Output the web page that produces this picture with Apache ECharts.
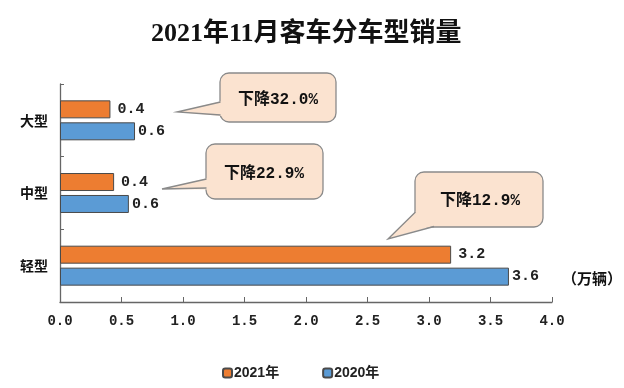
<!DOCTYPE html>
<html><head><meta charset="utf-8">
<script src="https://cdn.jsdelivr.net/npm/echarts@6/dist/echarts.min.js"></script>
<style>html,body{margin:0;padding:0;background:#fff}#c{width:624px;height:388px}</style>
</head><body><div id="c"></div>
<script>
var categories = ['轻型', '中型', '大型'];
var seriesNames = ['2021年', '2020年'];
var values2021 = [3.18, 0.44, 0.41];
var values2020 = [3.65, 0.56, 0.61];
var xTicks = [0, 0.5, 1, 1.5, 2, 2.5, 3, 3.5, 4];
var changeTexts = ['下降12.9%', '下降22.9%', '下降32.0%'];

var chart = echarts.init(document.getElementById('c'));
var mono = 'Liberation Mono, Noto Sans CJK SC, monospace';
var labelCfg = {
  show: true, position: 'right', distance: 7,
  fontFamily: mono, fontWeight: 'bold', fontSize: 15, color: '#222',
  formatter: function (p) { return p.value.toFixed(1); }
};
var fill = '#FBE3D0', stroke = '#8a8a8a';

function callout(rect, base1, tip, base2, coverPts, text, tx, ty) {
  return [
    { type: 'rect', shape: { x: rect[0], y: rect[1], width: rect[2], height: rect[3], r: 9 },
      style: { fill: fill, stroke: stroke, lineWidth: 1.3 }, z: 10 },
    { type: 'polygon', shape: { points: coverPts }, style: { fill: fill }, z: 11 },
    { type: 'polyline', shape: { points: [base1, tip, base2] },
      style: { fill: null, stroke: stroke, lineWidth: 1.3 }, z: 12 },
    { type: 'text', x: tx, y: ty, style: { text: text, fill: '#111', font: 'bold 16px ' + mono,
      textAlign: 'center', textVerticalAlign: 'middle' }, z: 13 }
  ];
}

var graphics = [].concat(
  callout([220, 73, 116, 49], [220.5, 102], [177, 112], [220.5, 115],
    [[222, 101], [177, 112], [222, 116]], changeTexts[2], 278, 100),
  callout([206, 144, 117, 55], [206.5, 179], [162, 189], [206.5, 188],
    [[208, 178], [162, 189], [208, 189.5]], changeTexts[1], 264, 174),
  callout([415, 172, 128, 55], [415.5, 212], [388, 239], [434, 226.5],
    [[416.3, 211], [388, 238.5], [434, 225.7], [434, 220], [418, 210]], changeTexts[0], 480, 201),
  [{ type: 'text', left: 562, top: 271, style: { text: '（万辆）', fill: '#111',
     font: 'bold 15px Noto Sans CJK SC' } }]
);

chart.setOption({
  animation: false,
  backgroundColor: '#fff',
  title: {
    text: '2021年11月客车分车型销量', left: 146, top: 16,
    textStyle: { fontFamily: 'Liberation Serif, Noto Sans CJK SC', fontSize: 26, fontWeight: 'bold', color: '#111' }
  },
  legend: {
    bottom: 3, left: 217, itemWidth: 9, itemHeight: 9, itemGap: 43,
    data: seriesNames,
    textStyle: { fontFamily: 'Liberation Sans, Noto Sans CJK SC', fontSize: 14, fontWeight: 'bold', color: '#222', padding: [0, 0, 0, -3] }
  },
  grid: { left: 60, right: 72, top: 84, bottom: 86 },
  xAxis: {
    type: 'value', min: 0, max: 4, interval: 0.5,
    axisLine: { show: true, lineStyle: { color: '#666', width: 1.3 } },
    axisTick: { show: true, inside: true, length: 5, lineStyle: { color: '#666' } },
    splitLine: { show: false },
    axisLabel: { margin: 12, fontFamily: mono, fontWeight: 'bold', fontSize: 14, color: '#222',
      formatter: function (v) { return v.toFixed(1); } }
  },
  yAxis: {
    type: 'category', data: categories,
    axisLine: { show: true, lineStyle: { color: '#666', width: 1.3 } },
    axisTick: { show: true, inside: true, length: 4, lineStyle: { color: '#666' } },
    axisLabel: { margin: 12, fontFamily: 'Noto Sans CJK SC', fontWeight: 'bold', fontSize: 14, color: '#111' }
  },
  series: [
    { name: seriesNames[0], type: 'bar', data: values2021, barWidth: 18, barGap: '22%',
      itemStyle: { color: '#ED7D31', borderColor: '#4a4a4a', borderWidth: 1 }, label: labelCfg },
    { name: seriesNames[1], type: 'bar', data: values2020, barWidth: 18, barGap: '22%',
      itemStyle: { color: '#5B9BD5', borderColor: '#4a4a4a', borderWidth: 1 },
      label: Object.assign({}, labelCfg, { distance: 3 }) }
  ],
  graphic: graphics
});
</script></body></html>
